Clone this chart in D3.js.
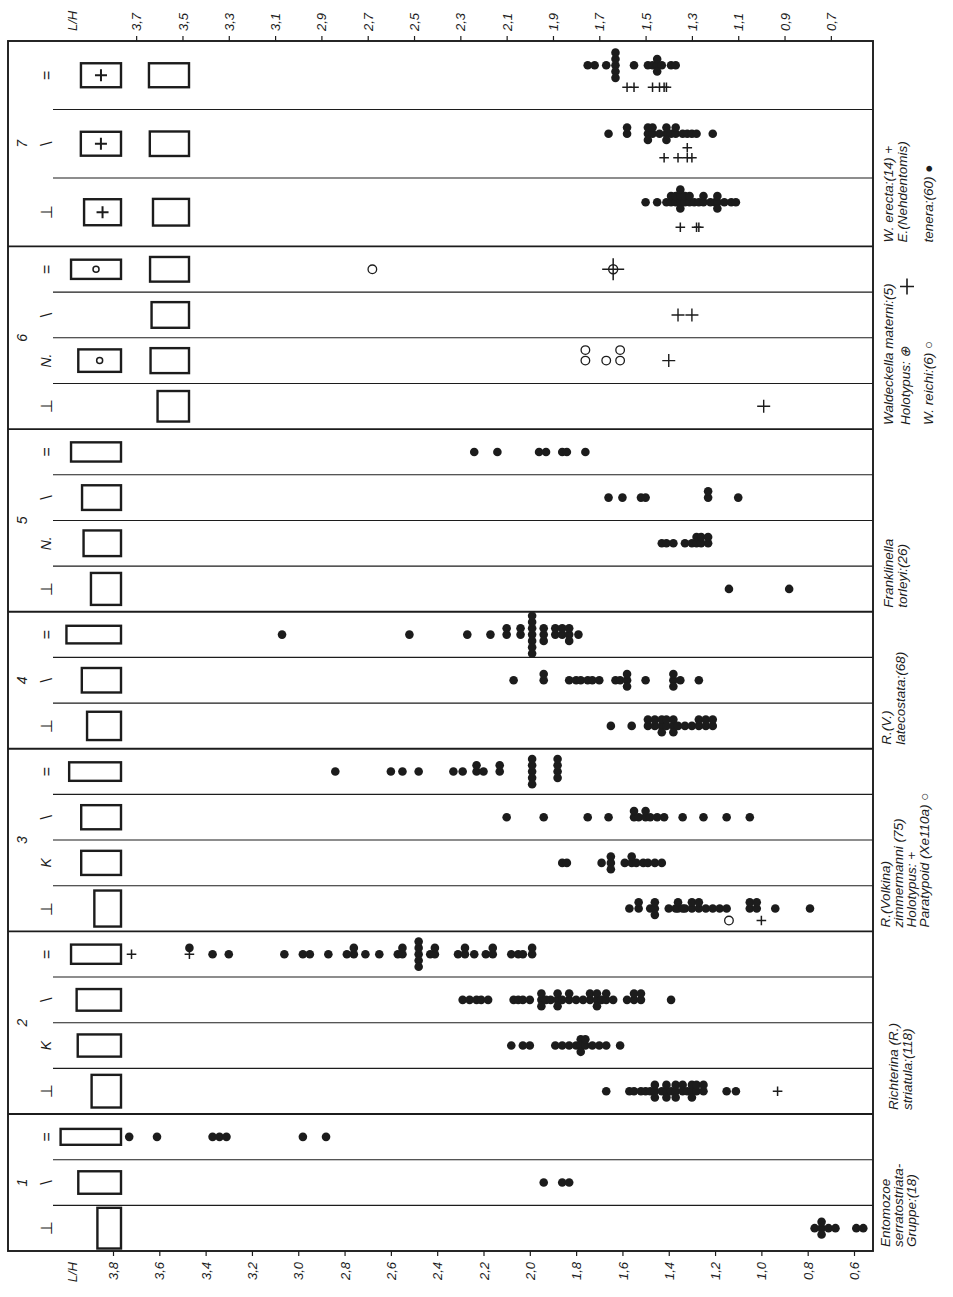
<!DOCTYPE html>
<html>
<head>
<meta charset="utf-8">
<script src="https://cdn.jsdelivr.net/npm/d3@7"></script>
<style>
  body { margin: 0; background: #fff; }
  text { font-family: "Liberation Sans", Arial, sans-serif; fill: #1c1c1c; }
</style>
</head>
<body>
<div id="chart"></div>
<script>
// ---- axis ticks (L/H) ----
const bottomTicks = [3.8, 3.6, 3.4, 3.2, 3.0, 2.8, 2.6, 2.4, 2.2, 2.0, 1.8, 1.6, 1.4, 1.2, 1.0, 0.8, 0.6];
const topTicks = [3.7, 3.5, 3.3, 3.1, 2.9, 2.7, 2.5, 2.3, 2.1, 1.9, 1.7, 1.5, 1.3, 1.1, 0.9, 0.7];

// ---- groups, top to bottom ----
const groupIds = [7, 6, 5, 4, 3, 2, 1];
const rowSymbols = [
  ["=", "\\", "⊥"],
  ["=", "\\", "N.", "⊥"],
  ["=", "\\", "N.", "⊥"],
  ["=", "\\", "⊥"],
  ["=", "\\", "K", "⊥"],
  ["=", "\\", "K", "⊥"],
  ["=", "\\", "⊥"]
];

// outline icons: L/H ratio of the sketched shell per row [column 1, column 2]
const boxRatios = [
  [[1.67, 1.67], [1.68, 1.6], [1.42, 1.35]],
  [[2.6, 1.58], [null, 1.46], [1.9, 1.54], [null, 1.03]],
  [[2.6], [1.58], [1.46], [0.94]],
  [[3.1], [1.6], [1.2]],
  [[2.8], [1.65], [1.65], [0.74]],
  [[2.6], [2.05], [1.95], [0.9]],
  [[3.8], [1.9], [0.58]]
];
const boxMarks = ["+", "o", null, null, null, null, null];

// ---- species labels ----
const speciesText = [
  ["W. erecta:(14) +", "E.(Nehdentomis)", "tenera:(60) ●"],
  ["Waldeckella  materni:(5)", "Holotypus: ⊕", "W.  reichi:(6) ○"],
  ["Franklinella", "torleyi:(26)"],
  ["R.(V.)", "latecostata:(68)"],
  ["R.(Volkina)", "zimmermanni (75)", "Holotypus: +", "Paratypoid (Xe110a) ○"],
  ["Richterina (R.)", "striatula:(118)"],
  ["Entomozoe", "serratostriata-", "Gruppe:(18)"]
];

// ---- specimen L/H values ----
// group 7: E.(Nehdentomis) tenera (dots), W. erecta (+)
const g7Eq = [1.75, 1.72, 1.67, 1.63, 1.63, 1.63, 1.63, 1.63, 1.55, 1.49, 1.47, 1.45, 1.45, 1.45, 1.43, 1.39, 1.37];
const g7EqPlus = [1.58, 1.55, 1.47, 1.44, 1.42, 1.41];
const g7Sl = [1.66, 1.58, 1.58, 1.49, 1.49, 1.49, 1.47, 1.47, 1.44, 1.41, 1.41, 1.41, 1.39, 1.37, 1.37, 1.34, 1.32, 1.30, 1.28, 1.21];
const g7SlPlus = [1.42, 1.36, 1.32, 1.32, 1.30];
const g7Perp = [1.50, 1.45, 1.41, 1.39, 1.39, 1.37, 1.37, 1.35, 1.35, 1.35, 1.35, 1.33, 1.33, 1.31, 1.31, 1.29, 1.27, 1.25, 1.25, 1.22, 1.20, 1.19, 1.19, 1.19, 1.16, 1.13, 1.11];
const g7PerpPlus = [1.35, 1.28, 1.27];
// group 6: Waldeckella materni (+, holotype), W. reichi (o)
const g6EqHolo = [1.64];
const g6EqReichi = [2.68];
const g6SlMaterni = [1.36, 1.30];
const g6NReichi = [1.76, 1.76, 1.67, 1.61, 1.61];
const g6NMaterni = [1.40];
const g6PerpMaterni = [0.99];
// group 5: Franklinella torleyi
const g5Eq = [2.24, 2.14, 1.96, 1.93, 1.86, 1.84, 1.76];
const g5Sl = [1.66, 1.60, 1.52, 1.50, 1.23, 1.23, 1.10];
const g5N = [1.43, 1.41, 1.38, 1.33, 1.30, 1.28, 1.28, 1.26, 1.26, 1.23, 1.23];
const g5Perp = [1.14, 0.88];
// group 4: R.(V.) latecostata
const g4Eq = [3.07, 2.52, 2.27, 2.17, 2.10, 2.10, 2.04, 2.04, 1.99, 1.99, 1.99, 1.99, 1.99, 1.99, 1.99, 1.94, 1.94, 1.94, 1.89, 1.89, 1.86, 1.86, 1.83, 1.83, 1.83, 1.79];
const g4Sl = [2.07, 1.94, 1.94, 1.83, 1.80, 1.78, 1.75, 1.73, 1.70, 1.63, 1.61, 1.58, 1.58, 1.58, 1.50, 1.38, 1.38, 1.38, 1.35, 1.27];
const g4Perp = [1.65, 1.56, 1.49, 1.49, 1.46, 1.46, 1.43, 1.43, 1.43, 1.41, 1.41, 1.38, 1.38, 1.38, 1.36, 1.33, 1.30, 1.27, 1.27, 1.24, 1.24, 1.21, 1.21];
// group 3: R.(Volkina) zimmermanni
const g3Eq = [2.84, 2.60, 2.55, 2.48, 2.33, 2.29, 2.23, 2.23, 2.20, 2.13, 2.13, 1.99, 1.99, 1.99, 1.99, 1.99, 1.88, 1.88, 1.88, 1.88];
const g3Sl = [2.10, 1.94, 1.75, 1.66, 1.55, 1.55, 1.53, 1.50, 1.50, 1.48, 1.45, 1.42, 1.34, 1.25, 1.15, 1.05];
const g3K = [1.86, 1.84, 1.69, 1.65, 1.65, 1.65, 1.59, 1.56, 1.56, 1.54, 1.51, 1.49, 1.46, 1.43];
const g3Perp = [1.57, 1.53, 1.53, 1.48, 1.46, 1.46, 1.46, 1.40, 1.37, 1.36, 1.36, 1.34, 1.33, 1.30, 1.30, 1.27, 1.27, 1.24, 1.21, 1.18, 1.15, 1.05, 1.05, 1.02, 1.02, 0.94, 0.79];
const g3PerpPara = [1.14];
const g3PerpHolo = [1.00];
// group 2: Richterina (R.) striatula
const g2EqPlus = [3.72, 3.47];
const g2Eq = [3.47, 3.37, 3.30, 3.06, 2.98, 2.95, 2.87, 2.79, 2.76, 2.76, 2.71, 2.65, 2.57, 2.55, 2.55, 2.48, 2.48, 2.48, 2.48, 2.48, 2.43, 2.41, 2.41, 2.31, 2.28, 2.28, 2.24, 2.19, 2.16, 2.16, 2.08, 2.05, 2.03, 1.99, 1.99];
const g2Sl = [2.29, 2.26, 2.23, 2.21, 2.18, 2.07, 2.05, 2.03, 2.00, 1.95, 1.95, 1.95, 1.93, 1.91, 1.88, 1.88, 1.88, 1.86, 1.83, 1.83, 1.80, 1.77, 1.74, 1.74, 1.71, 1.71, 1.71, 1.69, 1.67, 1.67, 1.64, 1.58, 1.55, 1.55, 1.52, 1.52, 1.39];
const g2K = [2.08, 2.03, 2.00, 1.89, 1.86, 1.83, 1.80, 1.78, 1.78, 1.78, 1.76, 1.76, 1.73, 1.70, 1.67, 1.61];
const g2Perp = [1.67, 1.57, 1.55, 1.52, 1.50, 1.48, 1.46, 1.46, 1.46, 1.43, 1.41, 1.41, 1.41, 1.39, 1.37, 1.37, 1.37, 1.34, 1.34, 1.32, 1.30, 1.30, 1.30, 1.28, 1.28, 1.25, 1.25, 1.15, 1.11];
const g2PerpPlus = [0.93];
// group 1: Entomozoe serratostriata-Gruppe
const g1Eq = [3.73, 3.61, 3.37, 3.34, 3.31, 2.98, 2.88];
const g1Sl = [1.94, 1.86, 1.83];
const g1Perp = [0.77, 0.74, 0.74, 0.74, 0.71, 0.68, 0.59, 0.56];

// series per row (kind = marker, lane = vertical shift inside the row)
const rowSeries = [
  [
    [{ kind: "dot", v: g7Eq, lane: -10 }, { kind: "plus", v: g7EqPlus, lane: 12 }],
    [{ kind: "dot", v: g7Sl, lane: -10 }, { kind: "plus", v: g7SlPlus, lane: 14 }],
    [{ kind: "dot", v: g7Perp, lane: -10 }, { kind: "plus", v: g7PerpPlus, lane: 15 }]
  ],
  [
    [{ kind: "holo", v: g6EqHolo, lane: 0 }, { kind: "circle", v: g6EqReichi, lane: 0 }],
    [{ kind: "bigplus", v: g6SlMaterni, lane: 0 }],
    [{ kind: "circle", v: g6NReichi, lane: 0 }, { kind: "bigplus", v: g6NMaterni, lane: 0 }],
    [{ kind: "bigplus", v: g6PerpMaterni, lane: 0 }]
  ],
  [[{ kind: "dot", v: g5Eq, lane: 0 }], [{ kind: "dot", v: g5Sl, lane: 0 }], [{ kind: "dot", v: g5N, lane: 0 }], [{ kind: "dot", v: g5Perp, lane: 0 }]],
  [[{ kind: "dot", v: g4Eq, lane: 0 }], [{ kind: "dot", v: g4Sl, lane: 0 }], [{ kind: "dot", v: g4Perp, lane: 0 }]],
  [
    [{ kind: "dot", v: g3Eq, lane: 0 }],
    [{ kind: "dot", v: g3Sl, lane: 0 }],
    [{ kind: "dot", v: g3K, lane: 0 }],
    [{ kind: "dot", v: g3Perp, lane: 0 }, { kind: "circle", v: g3PerpPara, lane: 12 }, { kind: "plus", v: g3PerpHolo, lane: 12 }]
  ],
  [
    [{ kind: "plus", v: g2EqPlus, lane: 0 }, { kind: "dot", v: g2Eq, lane: 0 }],
    [{ kind: "dot", v: g2Sl, lane: 0 }],
    [{ kind: "dot", v: g2K, lane: 0 }],
    [{ kind: "dot", v: g2Perp, lane: 0 }, { kind: "plus", v: g2PerpPlus, lane: 0 }]
  ],
  [[{ kind: "dot", v: g1Eq, lane: 0 }], [{ kind: "dot", v: g1Sl, lane: 0 }], [{ kind: "dot", v: g1Perp, lane: 0 }]]
];

// ---- layout ----
const width = 953, height = 1297;
const frame = { left: 8, right: 873, top: 41, bottom: 1251 };
const ink = "#1c1c1c";

const x = d3.scaleLinear().domain([3.8, 0.6]).range([113, 854]);

// row heights in units: group 7 rows are taller
const rowUnits = groupIds.map(g => g === 7 ? 1.5 : 1);
const totalUnits = d3.sum(rowSymbols, (r, i) => r.length * rowUnits[i]);
const yUnit = d3.scaleLinear().domain([0, totalUnits]).range([frame.top, frame.bottom]);

const rows = [];
const groupsLayout = [];
let u = 0;
rowSymbols.forEach((syms, gi) => {
  const g0 = u;
  syms.forEach((s, ri) => {
    rows.push({ gi, ri, sym: s, top: yUnit(u), bottom: yUnit(u + rowUnits[gi]), cy: yUnit(u + rowUnits[gi] / 2), first: ri === 0 });
    u += rowUnits[gi];
  });
  groupsLayout.push({ gi, top: yUnit(g0), bottom: yUnit(u) });
});

const svg = d3.select("#chart").append("svg")
  .attr("width", width)
  .attr("height", height);

svg.append("rect").attr("width", width).attr("height", height).attr("fill", "#fff");

// frame
svg.append("rect")
  .attr("x", frame.left).attr("y", frame.top)
  .attr("width", frame.right - frame.left).attr("height", frame.bottom - frame.top)
  .attr("fill", "none").attr("stroke", ink).attr("stroke-width", 1.9);

// separators
svg.selectAll(".sep")
  .data(rows.filter(r => r.top > frame.top + 1))
  .enter().append("line")
  .attr("class", "sep")
  .attr("x1", d => d.first ? frame.left : 53)
  .attr("x2", frame.right)
  .attr("y1", d => d.top).attr("y2", d => d.top)
  .attr("stroke", ink)
  .attr("stroke-width", d => d.first ? 1.8 : 1.1);

// axes
const fmt = d => d.toFixed(1).replace(".", ",");
const bottomAxis = svg.append("g")
  .attr("transform", `translate(0,${frame.bottom})`)
  .call(d3.axisBottom(x).tickValues(bottomTicks).tickSize(5).tickFormat(fmt));
const topAxis = svg.append("g")
  .attr("transform", `translate(0,${frame.top})`)
  .call(d3.axisTop(x).tickValues(topTicks).tickSize(5).tickFormat(fmt));
[bottomAxis, topAxis].forEach(a => {
  a.select(".domain").remove();
  a.selectAll("line").attr("stroke", ink).attr("stroke-width", 1.2);
  a.selectAll("text")
    .attr("fill", ink)
    .attr("font-size", 13)
    .attr("font-style", "italic")
    .attr("font-family", "'Liberation Sans', Arial, sans-serif")
    .attr("transform", "rotate(-90)")
    .attr("y", 0)
    .attr("dy", "0.35em");
});
bottomAxis.selectAll("text").attr("x", -11).attr("text-anchor", "end");
topAxis.selectAll("text").attr("x", 10).attr("text-anchor", "start");

svg.append("text")
  .attr("transform", `translate(72,${frame.bottom + 11}) rotate(-90)`)
  .attr("text-anchor", "end").attr("dy", "0.35em")
  .attr("font-size", 13).attr("font-style", "italic")
  .text("L/H");
svg.append("text")
  .attr("transform", `translate(72,${frame.top - 10}) rotate(-90)`)
  .attr("text-anchor", "start").attr("dy", "0.35em")
  .attr("font-size", 13).attr("font-style", "italic")
  .text("L/H");

// group numbers
svg.selectAll(".gnum")
  .data(groupsLayout)
  .enter().append("text")
  .attr("class", "gnum")
  .attr("transform", d => `translate(22,${(d.top + d.bottom) / 2}) rotate(-90)`)
  .attr("text-anchor", "middle").attr("dy", "0.35em")
  .attr("font-size", 14).attr("font-style", "italic")
  .text(d => groupIds[d.gi]);

// row symbols
svg.selectAll(".rsym")
  .data(rows)
  .enter().append("text")
  .attr("class", "rsym")
  .attr("transform", d => `translate(46,${d.cy}) rotate(-90)`)
  .attr("text-anchor", "middle").attr("dy", "0.35em")
  .attr("font-size", d => (d.sym === "K" || d.sym === "N.") ? 14 : 16)
  .attr("font-style", d => (d.sym === "K" || d.sym === "N.") ? "italic" : "normal")
  .text(d => d.sym);

// outline icons (constant area, width/height = ratio)
const iconArea = 960;
const colRight = [121, 189];
const icons = [];
rows.forEach(r => {
  (boxRatios[r.gi][r.ri] || []).forEach((ratio, ci) => {
    if (ratio == null) return;
    const h = Math.sqrt(iconArea / ratio);
    icons.push({ r, ci, w: ratio * h, h, mark: ci === 0 ? boxMarks[r.gi] : null });
  });
});
svg.selectAll(".icon")
  .data(icons)
  .enter().append("rect")
  .attr("class", "icon")
  .attr("x", d => colRight[d.ci] - d.w)
  .attr("y", d => Math.min(d.r.cy - d.h / 2, frame.bottom - d.h))
  .attr("width", d => d.w).attr("height", d => d.h)
  .attr("fill", "none").attr("stroke", ink).attr("stroke-width", 2.4);
icons.filter(d => d.mark === "+").forEach(d => {
  const cx = colRight[d.ci] - d.w / 2;
  svg.append("path")
    .attr("d", `M${cx - 6},${d.r.cy}H${cx + 6}M${cx},${d.r.cy - 6}V${d.r.cy + 6}`)
    .attr("stroke", ink).attr("stroke-width", 2);
});
icons.filter(d => d.mark === "o").forEach(d => {
  svg.append("circle")
    .attr("cx", colRight[d.ci] - d.w / 2).attr("cy", d.r.cy).attr("r", 3)
    .attr("fill", "none").attr("stroke", ink).attr("stroke-width", 1.5);
});

// specimen marks, stacked when values repeat
const stepOf = { dot: 6.3, plus: 10, bigplus: 10, circle: 10.5, holo: 10 };
const level = k => k === 0 ? 0 : (k % 2 ? -(k + 1) / 2 : k / 2);
const marks = [];
rows.forEach(r => {
  const counts = new Map();
  rowSeries[r.gi][r.ri].forEach(s => {
    s.v.forEach(v => {
      const key = s.lane + "|" + v.toFixed(2);
      const k = counts.get(key) || 0;
      counts.set(key, k + 1);
      marks.push({ kind: s.kind, cx: x(v), cy: r.cy + s.lane + level(k) * stepOf[s.kind] });
    });
  });
});

const markG = svg.append("g");
markG.selectAll(".dot")
  .data(marks.filter(m => m.kind === "dot"))
  .enter().append("circle")
  .attr("cx", d => d.cx).attr("cy", d => d.cy).attr("r", 4.3)
  .attr("fill", ink);
markG.selectAll(".open")
  .data(marks.filter(m => m.kind === "circle"))
  .enter().append("circle")
  .attr("cx", d => d.cx).attr("cy", d => d.cy).attr("r", 4.3)
  .attr("fill", "none").attr("stroke", ink).attr("stroke-width", 1.3);
const plusPath = a => d => `M${d.cx - a},${d.cy}H${d.cx + a}M${d.cx},${d.cy - a}V${d.cy + a}`;
markG.selectAll(".plus")
  .data(marks.filter(m => m.kind === "plus"))
  .enter().append("path")
  .attr("d", plusPath(4.8))
  .attr("stroke", ink).attr("stroke-width", 1.5);
markG.selectAll(".bigplus")
  .data(marks.filter(m => m.kind === "bigplus"))
  .enter().append("path")
  .attr("d", plusPath(6.5))
  .attr("stroke", ink).attr("stroke-width", 1.4);
const holo = markG.selectAll(".holo")
  .data(marks.filter(m => m.kind === "holo"))
  .enter().append("g");
holo.append("circle")
  .attr("cx", d => d.cx).attr("cy", d => d.cy).attr("r", 4.5)
  .attr("fill", "none").attr("stroke", ink).attr("stroke-width", 1.4);
holo.append("path")
  .attr("d", plusPath(11))
  .attr("stroke", ink).attr("stroke-width", 1.5);

// species labels, rotated, reading upward
const lineX = [[888, 902, 928], [888, 905, 928], [888, 902], [886, 900], [885, 898, 911, 924], [893, 907], [885, 898, 911]];
groupsLayout.forEach(gl => {
  speciesText[gl.gi].forEach((t, li) => {
    svg.append("text")
      .attr("transform", `translate(${lineX[gl.gi][li]},${gl.bottom - 4}) rotate(-90)`)
      .attr("text-anchor", "start").attr("dy", "0.35em")
      .attr("font-size", 13.5).attr("font-style", "italic")
      .text(t);
  });
});
// large materni cross next to the group 6 label
const g6 = groupsLayout[1];
svg.append("path")
  .attr("d", `M${907 - 7},${g6.top + 40}H${907 + 7}M907,${g6.top + 32}V${g6.top + 48}`)
  .attr("stroke", ink).attr("stroke-width", 1.6);
</script>
</body>
</html>
